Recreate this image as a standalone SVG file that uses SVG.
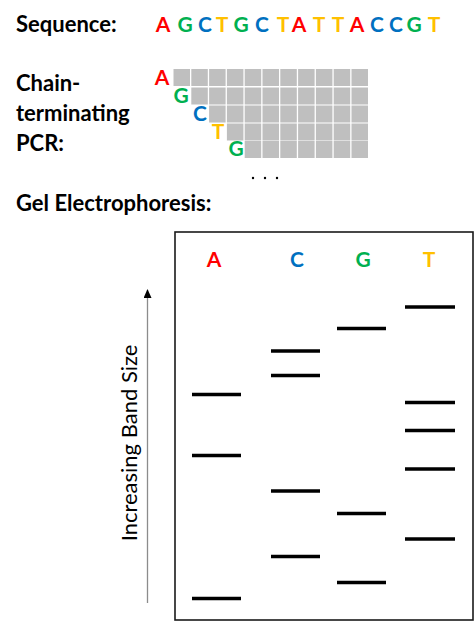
<svg xmlns="http://www.w3.org/2000/svg" width="474" height="621" viewBox="0 0 474 621">
<style>
.h{font-family:Lato,"Open Sans","Liberation Sans",sans-serif;font-weight:bold;font-size:22px;fill:#000}
.b{font-family:Lato,"Open Sans","Liberation Sans",sans-serif;font-weight:bold;font-size:21px;text-anchor:middle}
.A{fill:#FF0000}.C{fill:#0070C0}.G{fill:#00B050}.T{fill:#FFC000}
.cell{fill:#BFBFBF}
.band{stroke:#000;stroke-width:3.5}
</style>
<defs>
<marker id="ah" markerWidth="9" markerHeight="8" refX="8" refY="4" orient="auto" markerUnits="userSpaceOnUse" viewBox="0 0 9 8">
<path d="M0,0 L9,4 L0,8 Z" fill="#000"/>
</marker>
</defs>
<rect width="474" height="621" fill="#fff"/>
<g id="sequence">
<text class="h" x="16" y="32">Sequence:</text>
<text class="b A" x="163" y="32">A</text>
<text class="b G" x="185" y="32">G</text>
<text class="b C" x="205" y="32">C</text>
<text class="b T" x="222" y="32">T</text>
<text class="b G" x="241" y="32">G</text>
<text class="b C" x="262" y="32">C</text>
<text class="b T" x="283" y="32">T</text>
<text class="b A" x="299" y="32">A</text>
<text class="b T" x="319" y="32">T</text>
<text class="b T" x="338" y="32">T</text>
<text class="b A" x="357" y="32">A</text>
<text class="b C" x="377" y="32">C</text>
<text class="b C" x="396" y="32">C</text>
<text class="b G" x="414" y="32">G</text>
<text class="b T" x="434" y="32">T</text>
</g>
<g id="pcr-label">
<text class="h" x="16" y="91">Chain-</text>
<text class="h" x="16" y="121">terminating</text>
<text class="h" x="16" y="151">PCR:</text>
</g>
<g id="pcr-grid">
<g id="row1">
<rect class="cell" x="173.5" y="69" width="16.5" height="17"/><rect class="cell" x="191.3" y="69" width="16.5" height="17"/><rect class="cell" x="209.1" y="69" width="16.5" height="17"/><rect class="cell" x="226.9" y="69" width="16.5" height="17"/><rect class="cell" x="244.7" y="69" width="16.5" height="17"/><rect class="cell" x="262.5" y="69" width="16.5" height="17"/><rect class="cell" x="280.3" y="69" width="16.5" height="17"/><rect class="cell" x="298.1" y="69" width="16.5" height="17"/><rect class="cell" x="315.9" y="69" width="16.5" height="17"/><rect class="cell" x="333.7" y="69" width="16.5" height="17"/><rect class="cell" x="351.5" y="69" width="16.5" height="17"/>
</g>
<g id="row2">
<rect class="cell" x="191.3" y="87.5" width="16.5" height="17"/><rect class="cell" x="209.1" y="87.5" width="16.5" height="17"/><rect class="cell" x="226.9" y="87.5" width="16.5" height="17"/><rect class="cell" x="244.7" y="87.5" width="16.5" height="17"/><rect class="cell" x="262.5" y="87.5" width="16.5" height="17"/><rect class="cell" x="280.3" y="87.5" width="16.5" height="17"/><rect class="cell" x="298.1" y="87.5" width="16.5" height="17"/><rect class="cell" x="315.9" y="87.5" width="16.5" height="17"/><rect class="cell" x="333.7" y="87.5" width="16.5" height="17"/><rect class="cell" x="351.5" y="87.5" width="16.5" height="17"/>
</g>
<g id="row3">
<rect class="cell" x="209.1" y="105.5" width="16.5" height="17"/><rect class="cell" x="226.9" y="105.5" width="16.5" height="17"/><rect class="cell" x="244.7" y="105.5" width="16.5" height="17"/><rect class="cell" x="262.5" y="105.5" width="16.5" height="17"/><rect class="cell" x="280.3" y="105.5" width="16.5" height="17"/><rect class="cell" x="298.1" y="105.5" width="16.5" height="17"/><rect class="cell" x="315.9" y="105.5" width="16.5" height="17"/><rect class="cell" x="333.7" y="105.5" width="16.5" height="17"/><rect class="cell" x="351.5" y="105.5" width="16.5" height="17"/>
</g>
<g id="row4">
<rect class="cell" x="226.9" y="123.5" width="16.5" height="17"/><rect class="cell" x="244.7" y="123.5" width="16.5" height="17"/><rect class="cell" x="262.5" y="123.5" width="16.5" height="17"/><rect class="cell" x="280.3" y="123.5" width="16.5" height="17"/><rect class="cell" x="298.1" y="123.5" width="16.5" height="17"/><rect class="cell" x="315.9" y="123.5" width="16.5" height="17"/><rect class="cell" x="333.7" y="123.5" width="16.5" height="17"/><rect class="cell" x="351.5" y="123.5" width="16.5" height="17"/>
</g>
<g id="row5">
<rect class="cell" x="244.7" y="141" width="16.5" height="17"/><rect class="cell" x="262.5" y="141" width="16.5" height="17"/><rect class="cell" x="280.3" y="141" width="16.5" height="17"/><rect class="cell" x="298.1" y="141" width="16.5" height="17"/><rect class="cell" x="315.9" y="141" width="16.5" height="17"/><rect class="cell" x="333.7" y="141" width="16.5" height="17"/><rect class="cell" x="351.5" y="141" width="16.5" height="17"/>
</g>
<text class="b A" x="162" y="85">A</text>
<text class="b G" x="181" y="103">G</text>
<text class="b C" x="200" y="121">C</text>
<text class="b T" x="218" y="139">T</text>
<text class="b G" x="236" y="156">G</text>
<g id="dots" fill="#000"><circle cx="253" cy="178" r="1.2"/><circle cx="265" cy="178" r="1.2"/><circle cx="277" cy="178" r="1.2"/></g>
</g>
<g id="gel-label">
<text class="h" x="16" y="211">Gel Electrophoresis:</text>
</g>
<g id="gel">
<rect x="175" y="232" width="298" height="388" fill="none" stroke="#1a1a1a" stroke-width="1.6"/>
<text class="b A" x="214" y="267">A</text>
<text class="b C" x="297" y="267">C</text>
<text class="b G" x="363" y="267">G</text>
<text class="b T" x="429" y="267">T</text>
<g id="lane-A"><line class="band" x1="192" y1="394.5" x2="241" y2="394.5"/><line class="band" x1="192" y1="455.5" x2="241" y2="455.5"/><line class="band" x1="192" y1="598.5" x2="241" y2="598.5"/></g>
<g id="lane-C"><line class="band" x1="271" y1="351" x2="320" y2="351"/><line class="band" x1="271" y1="375.5" x2="320" y2="375.5"/><line class="band" x1="271" y1="491" x2="320" y2="491"/><line class="band" x1="271" y1="556.5" x2="320" y2="556.5"/></g>
<g id="lane-G"><line class="band" x1="337" y1="328.5" x2="386" y2="328.5"/><line class="band" x1="337" y1="513.5" x2="386" y2="513.5"/><line class="band" x1="337" y1="582.5" x2="386" y2="582.5"/></g>
<g id="lane-T"><line class="band" x1="405" y1="307" x2="455" y2="307"/><line class="band" x1="405" y1="402.5" x2="455" y2="402.5"/><line class="band" x1="405" y1="430.5" x2="455" y2="430.5"/><line class="band" x1="405" y1="469" x2="455" y2="469"/><line class="band" x1="405" y1="539" x2="455" y2="539"/></g>
</g>
<g id="connectors">
<line x1="147.5" y1="603" x2="147.5" y2="290" stroke="#8c8c8c" stroke-width="1.3" marker-end="url(#ah)"/>
</g>
<g id="axis-label">
<text x="0" y="0" transform="translate(137,443) rotate(-90)" text-anchor="middle" font-family="Lato,'Open Sans','Liberation Sans',sans-serif" font-size="22" fill="#000">Increasing Band Size</text>
</g>
</svg>
